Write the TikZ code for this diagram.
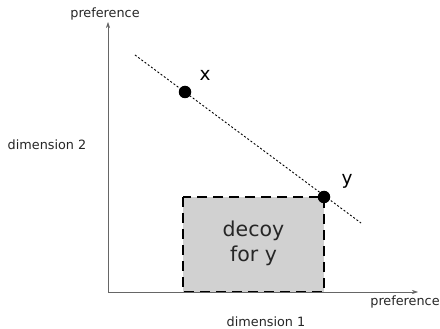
\documentclass[tikz,border=0pt]{standalone}
\usepackage{fontspec}
\setmainfont{DejaVu Sans}
\usetikzlibrary{arrows.meta}

\begin{document}
\begin{tikzpicture}[x=1pt, y=-1pt,
  axis/.style={draw=gray!80!black, line width=0.6pt, -{Stealth[length=6pt, width=4pt]}},
  lbl/.style={font=\fontsize{12.8}{14}\selectfont, text=black!85},
  pointlbl/.style={font=\fontsize{18.5}{20}\selectfont},
  dot/.style={circle, fill=black, inner sep=0pt, minimum size=12.5pt}]
  \useasboundingbox (0, 0) rectangle (440, 329);

  \coordinate (O) at (108, 292);
  \coordinate (ytip) at (108, 22);
  \coordinate (xtip) at (418, 292);

  % decoy region
  \draw[fill=black!18, dash pattern=on 10pt off 6pt, line width=2.4pt]
    (183, 197) rectangle (324, 292);
  \node[font=\fontsize{20.5}{25}\selectfont, align=center, text=black!85] (decoy) at (253.5, 243) {decoy\\for y};

  % axes
  \draw[axis] (O) -- (ytip);
  \draw[axis] (O) -- (xtip);

  % line through x and y
  \coordinate (l1) at (135, 55);
  \coordinate (l2) at (361, 223);
  \draw[dash pattern=on 2pt off 2pt, line width=0.9pt] (l1) -- (l2);

  \node[dot] (x) at (185, 92) {};
  \node[dot] (y) at (324, 197) {};
  \node[pointlbl] (xl) at (205, 75) {x};
  \node[pointlbl] (yl) at (347, 181) {y};

  \node[lbl] (py) at (105, 14) {preference};
  \node[lbl] (px) at (405, 302) {preference};
  \node[lbl] (d2) at (47, 145) {dimension 2};
  \node[lbl] (d1) at (266, 322) {dimension 1};
\end{tikzpicture}
\end{document}
